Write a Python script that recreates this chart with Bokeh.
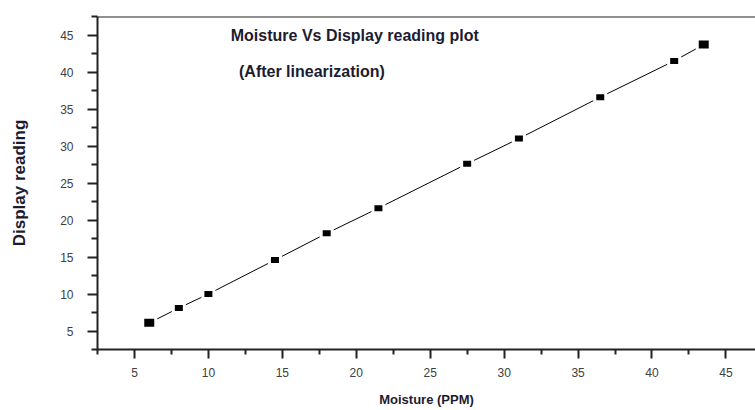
from bokeh.plotting import figure
from bokeh.models import Range1d, FixedTicker, Label, Span, ColumnDataSource
from bokeh.embed import file_html
from bokeh.resources import INLINE

# Data
moisture_ppm = [6, 8, 10, 14.5, 18, 21.5, 27.5, 31, 36.5, 41.5, 43.5]
display_reading = [6.1, 8.1, 10, 14.6, 18.2, 21.6, 27.6, 31, 36.6, 41.5, 43.7]
x_ticks = [5, 10, 15, 20, 25, 30, 35, 40, 45]
y_ticks = [5, 10, 15, 20, 25, 30, 35, 40, 45]
minor_ticks = [2.5, 7.5, 12.5, 17.5, 22.5, 27.5, 32.5, 37.5, 42.5, 47.5]
title_line1 = "Moisture Vs Display reading plot"
title_line2 = "(After linearization)"
x_title = "Moisture (PPM)"
y_title = "Display reading"

FONT = "Liberation Sans"
TICK_COLOR = "#404040"
TEXT_COLOR = "#1c1c30"

n = len(moisture_ppm)
mw = [10 if i in (0, n - 1) else 8 for i in range(n)]
mh = [8 if i in (0, n - 1) else 6 for i in range(n)]
src = ColumnDataSource(dict(
    x=moisture_ppm, y=display_reading,
    w=mw, h=mh,
    gw=[v + 6 for v in mw], gh=[v + 6 for v in mh],
))

p = figure(width=755, height=410,
           x_range=Range1d(2.5, 47), y_range=Range1d(2.5, 47.5),
           output_backend="svg", toolbar_location=None,
           min_border_left=97, min_border_top=16, min_border_right=0,
           min_border_bottom=61)
p.grid.visible = False
p.outline_line_color = None
p.background_fill_color = "white"
p.border_fill_color = "white"

# connecting line with gaps around markers
p.line("x", "y", source=src, line_color="black", line_width=1)
p.rect("x", "y", width="gw", height="gh", width_units="screen", height_units="screen",
       source=src, fill_color="white", line_color=None)
p.rect("x", "y", width="w", height="h", width_units="screen", height_units="screen",
       source=src, fill_color="black", line_color=None)

for ax, tick_out, minor_out in ((p.xaxis, 9, 5), (p.yaxis, 10, 6)):
    ax.axis_line_width = 2
    ax.axis_line_color = "#222222"
    ax.major_tick_in = 0
    ax.major_tick_out = tick_out
    ax.minor_tick_in = 0
    ax.minor_tick_out = minor_out
    ax.major_tick_line_width = 2
    ax.minor_tick_line_width = 2
    ax.major_tick_line_color = "#222222"
    ax.minor_tick_line_color = "#222222"
    ax.major_label_text_font = FONT
    ax.major_label_text_font_size = "12px"
    ax.major_label_text_color = TICK_COLOR
    ax.axis_label_text_font = FONT
    ax.axis_label_text_font_style = "bold"
    ax.axis_label_text_color = TEXT_COLOR

p.xaxis.ticker = FixedTicker(ticks=x_ticks, minor_ticks=minor_ticks)
p.yaxis.ticker = FixedTicker(ticks=y_ticks, minor_ticks=minor_ticks)
p.xaxis.axis_label = x_title
p.yaxis.axis_label = y_title
p.xaxis.axis_label_text_font_size = "13px"
p.yaxis.axis_label_text_font_size = "17px"
p.xaxis.major_label_standoff = 9
p.yaxis.major_label_standoff = 14
p.xaxis.axis_label_standoff = 12
p.yaxis.axis_label_standoff = 28

# top border
p.add_layout(Span(location=47.5, dimension="width", line_color="#222222", line_width=2))

p.add_layout(Label(x=19.9, y=44.9, text=title_line1, text_align="center",
                   text_baseline="middle", text_font=FONT, text_font_size="16px",
                   text_font_style="bold", text_color=TEXT_COLOR))
p.add_layout(Label(x=17.0, y=40.1, text=title_line2, text_align="center",
                   text_baseline="middle", text_font=FONT, text_font_size="16px",
                   text_font_style="bold", text_color=TEXT_COLOR))

open("out.html", "w").write(file_html(p, INLINE))
